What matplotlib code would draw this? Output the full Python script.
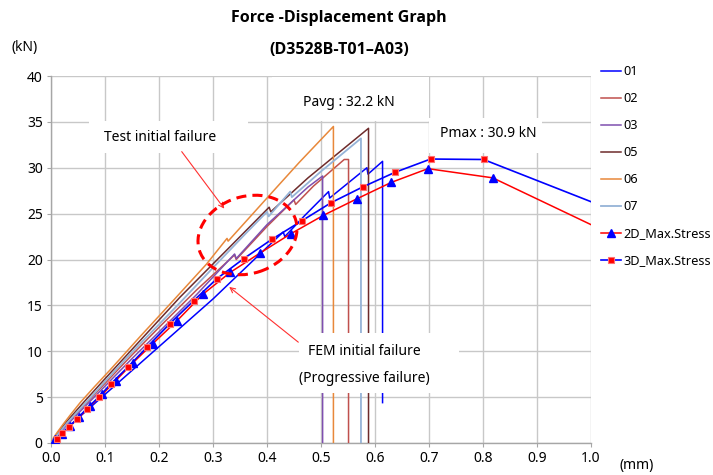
import matplotlib
matplotlib.use("Agg")
import matplotlib.pyplot as plt
from matplotlib.patches import Ellipse, Rectangle
import matplotlib.transforms as mtransforms

plt.rcParams['font.family'] = ['Noto Sans', 'DejaVu Sans']

# ---------------- data ----------------
x01 = [0, 0.01, 0.05, 0.1, 0.2, 0.3, 0.387, 0.43, 0.433, 0.47, 0.514, 0.516, 0.585, 0.587, 0.614, 0.614]
y01 = [0, 0.55, 2.7, 5.3, 10.5, 15.7, 20.6, 23.0, 22.5, 24.8, 27.4, 26.7, 30.0, 29.3, 30.7, 4.4]

x02 = [0, 0.01, 0.03, 0.06, 0.1, 0.15, 0.2, 0.27, 0.34, 0.343, 0.40, 0.45, 0.453, 0.486, 0.543, 0.551, 0.551]
y02 = [0, 0.75, 2.1, 4.0, 6.5, 9.6, 12.6, 16.7, 20.5, 20.0, 23.6, 26.5, 26.0, 28.0, 30.9, 30.9, 0]

x03 = [0, 0.01, 0.03, 0.06, 0.1, 0.15, 0.2, 0.27, 0.34, 0.343, 0.40, 0.476, 0.503, 0.503]
y03 = [0, 0.7, 2.0, 3.8, 6.2, 9.2, 12.1, 16.2, 20.6, 20.1, 23.8, 27.9, 29.1, 0]

x05 = [0, 0.01, 0.03, 0.06, 0.1, 0.15, 0.239, 0.325, 0.404, 0.407, 0.476, 0.588, 0.588]
y05 = [0, 0.85, 2.4, 4.4, 7.0, 10.2, 15.9, 21.0, 25.7, 25.2, 28.9, 34.3, 0]

x06 = [0, 0.005, 0.012, 0.022, 0.035, 0.054, 0.08, 0.11, 0.165, 0.226, 0.288, 0.326, 0.328, 0.40, 0.46, 0.523, 0.523]
y06 = [0, 0.6, 1.2, 2.0, 3.0, 4.4, 6.1, 8.0, 11.6, 15.5, 19.5, 22.3, 22.0, 26.7, 30.6, 34.5, 0]

x07 = [0, 0.01, 0.03, 0.06, 0.1, 0.15, 0.239, 0.30, 0.36, 0.40, 0.403, 0.443, 0.446, 0.50, 0.574, 0.574]
y07 = [0, 0.75, 2.2, 4.1, 6.7, 9.9, 15.3, 19.1, 22.8, 25.2, 24.7, 27.4, 26.8, 29.6, 33.2, 0]

x2d = [0.008, 0.02, 0.035, 0.052, 0.072, 0.095, 0.12, 0.151, 0.188, 0.233, 0.281, 0.332,
       0.387, 0.444, 0.504, 0.566, 0.630, 0.698, 0.818, 1.0]
y2d = [0.4, 1.0, 1.8, 2.8, 4.0, 5.3, 6.8, 8.7, 10.8, 13.3, 16.2, 18.6,
       20.7, 22.8, 24.8, 26.6, 28.4, 29.9, 28.9, 23.8]

x3d = [0.0106, 0.021, 0.034, 0.048, 0.066, 0.088, 0.111, 0.143, 0.178, 0.220, 0.264, 0.307,
       0.357, 0.409, 0.464, 0.519, 0.577, 0.637, 0.703, 0.801, 1.0]
y3d = [0.44, 1.06, 1.78, 2.62, 3.74, 4.98, 6.46, 8.31, 10.46, 13.0, 15.5, 17.9,
       20.1, 22.2, 24.2, 26.2, 27.9, 29.5, 30.95, 30.9, 26.3]

series_labels = ['01', '02', '03', '05', '06', '07']
x_ticks = [0.0, 0.1, 0.2, 0.3, 0.4, 0.5, 0.6, 0.7, 0.8, 0.9, 1.0]
y_ticks = [0, 5, 10, 15, 20, 25, 30, 35, 40]

# ---------------- figure ----------------
W, H = 713, 475
fig = plt.figure(figsize=(W / 100, H / 100), dpi=100)
ax = fig.add_axes([51 / W, 1 - 443 / H, 540 / W, 367 / H])

exp_styles = [
    (x01, y01, '#0000FF', 1.1),
    (x02, y02, '#C0504D', 1.1),
    (x03, y03, '#7F4FAF', 1.1),
    (x05, y05, '#6E2B2B', 1.1),
    (x06, y06, '#E8883A', 1.1),
    (x07, y07, '#95B3D7', 1.3),
]
handles = []
for (xs, ys, c, lw), lab in zip(exp_styles, series_labels):
    ln, = ax.plot(xs, ys, color=c, lw=lw, zorder=3, label=lab)
    handles.append(ln)

h2d, = ax.plot(x2d, y2d, color='#FF0000', lw=1.1, marker='^', markersize=6,
               markerfacecolor='#0000FF', markeredgecolor='#0000FF',
               markevery=list(range(len(x2d) - 1)), zorder=4, label='2D_Max.Stress')
h3d, = ax.plot(x3d, y3d, color='#0000FF', lw=1.2, marker='s', markersize=5,
               markerfacecolor='#FF0000', markeredgecolor='#FF7070', markeredgewidth=0.8,
               markevery=list(range(len(x3d) - 1)), zorder=4, label='3D_Max.Stress')
handles += [h2d, h3d]

ax.set_xlim(0, 1.0)
ax.set_ylim(0, 40)
ax.set_xticks(x_ticks)
ax.set_xticklabels([f'{v:.1f}' for v in x_ticks])
ax.set_yticks(y_ticks)
ax.set_yticklabels([str(v) for v in y_ticks])
ax.tick_params(axis='both', labelsize=10, length=3, color='#A6A6A6', direction='out',
               labelcolor='#000000', pad=3)
ax.grid(True, color='#C8C8C8', lw=1.0, zorder=0)
ax.set_axisbelow(True)
for s in ['top', 'right']:
    ax.spines[s].set_visible(False)
for s in ['left', 'bottom']:
    ax.spines[s].set_color('#A6A6A6')
    ax.spines[s].set_linewidth(1.0)

# white text boxes (cover grid like the original)
def wbox(x0, x1, y0, y1):
    ax.add_patch(Rectangle((x0, y0), x1 - x0, y1 - y0, facecolor='white',
                           edgecolor='none', zorder=5, clip_on=False))

wbox(0.41, 0.70, 35.1, 39.85)   # Pavg
wbox(0.70, 0.91, 31.6, 35.4)    # Pmax
wbox(0.07, 0.365, 31.6, 35.05)  # Test initial failure
wbox(0.46, 0.755, 5.45, 12.0)   # FEM initial failure

ax.text(0.552, 37.06, 'Pavg : 32.2 kN', ha='center', va='center', fontsize=10, zorder=7)
ax.text(0.81, 33.7, 'Pmax : 30.9 kN', ha='center', va='center', fontsize=10, zorder=7)
ax.text(0.202, 33.35, 'Test initial failure', ha='center', va='center', fontsize=10, zorder=7)
ax.text(0.581, 9.92, 'FEM initial failure', ha='center', va='center', fontsize=10, zorder=7)
ax.text(0.581, 7.08, '(Progressive failure)', ha='center', va='center', fontsize=10, zorder=7)

# arrows
ax.annotate('', xy=(0.324, 25.3), xytext=(0.239, 32.0),
            arrowprops=dict(arrowstyle='->', color='#FF3030', lw=0.8, mutation_scale=9),
            zorder=8)
ax.annotate('', xy=(0.326, 17.2), xytext=(0.462, 10.8),
            arrowprops=dict(arrowstyle='->', color='#FF3030', lw=0.8, mutation_scale=9),
            zorder=8)

# dashed ellipse (in pixel coordinates)
px = mtransforms.IdentityTransform()
ell = Ellipse((247.5, H - 235), 101, 77, angle=17.8, transform=px, fill=False,
              edgecolor='#FF0000', lw=2.2, linestyle=(0, (3.3, 2.0)), zorder=8)
fig.patches.append(ell)

# titles and unit labels
title_font = ['Open Sans', 'DejaVu Sans']
fig.text(339 / W, 1 - 18 / H, 'Force -Displacement Graph', ha='center', va='center',
         fontsize=11.5, fontweight='bold', family=title_font)
fig.text(339 / W, 1 - 50 / H, '(D3528B-T01\u2013A03)', ha='center', va='center',
         fontsize=11.5, fontweight='bold', family=title_font)
fig.text(25 / W, 1 - 47 / H, '(kN)', ha='center', va='center', fontsize=10)
fig.text(637 / W, 1 - 465 / H, '(mm)', ha='center', va='center', fontsize=10)

leg = ax.legend(handles=handles, loc='upper left', bbox_to_anchor=(601 / W, 1 - 65 / H),
                bbox_transform=fig.transFigure, frameon=False, fontsize=9.2,
                handlelength=1.6, handletextpad=0.15, labelspacing=1.1,
                borderpad=0, borderaxespad=0)

fig.savefig('out.png', dpi=100)
